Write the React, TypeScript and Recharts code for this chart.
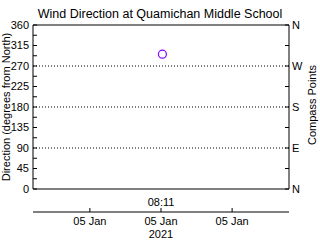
import { ScatterChart, Scatter, XAxis, YAxis, ReferenceLine } from "recharts";

// one observation on 05 Jan 2021, x in minutes after midnight
const obsMinutes = [491.1];
const obsDirection = [296];

const timeTicks = [486, 491, 496];
const timeTickLabels = ["05 Jan", "05 Jan", "05 Jan"];
const degreeTicks = [0, 22.5, 45, 67.5, 90, 112.5, 135, 157.5, 180, 202.5, 225, 247.5, 270, 292.5, 315, 337.5, 360];
const compassTicks = [0, 45, 90, 135, 180, 225, 270, 315, 360];
const compassNames = ["N", "", "E", "", "S", "", "W", "", "N"];
const gridDegrees = [90, 180, 270];

const FONT = "'Liberation Sans', Arial, sans-serif";
const PURPLE = "#7f00ff";

const data = obsMinutes.map((t, i) => ({ time: t, dir: obsDirection[i] }));

const tickStyle = { fontSize: 11, fill: "#000", fontFamily: FONT };
const noMark = () => <g />;

export default function App() {
  return (
    <div style={{ position: "absolute", left: 0, top: 0, width: 320, height: 240, background: "#fff" }}>
      <ScatterChart width={320} height={240} margin={{ top: 0, right: 0, bottom: 0, left: 0 }}>
        <XAxis
          xAxisId="top"
          orientation="top"
          type="number"
          dataKey="time"
          domain={[482, 500]}
          height={25}
          tick={false}
          tickLine={false}
          axisLine={{ stroke: "#000" }}
          label={{
            content: () => (
              <text x={160} y={18} textAnchor="middle" fontSize={12.5} fontFamily={FONT} fill="#000">
                Wind Direction at Quamichan Middle School
              </text>
            ),
          }}
        />
        <XAxis
          xAxisId="box"
          orientation="bottom"
          type="number"
          dataKey="time"
          domain={[482, 500]}
          height={23}
          tick={false}
          tickLine={false}
          axisLine={{ stroke: "#000" }}
          label={{
            content: (p: any) => (
              <text
                x={p.viewBox.x + p.viewBox.width / 2}
                y={p.viewBox.y + 17}
                textAnchor="middle"
                fontSize={11}
                fontFamily={FONT}
                fill="#000"
              >
                08:11
              </text>
            ),
          }}
        />
        <XAxis
          xAxisId="time"
          orientation="bottom"
          type="number"
          dataKey="time"
          domain={[482, 500]}
          ticks={timeTicks}
          tickFormatter={(v: number) => timeTickLabels[timeTicks.indexOf(v)] ?? ""}
          height={28}
          tickSize={-4}
          tickMargin={9}
          tick={tickStyle}
          tickLine={{ stroke: "#000" }}
          axisLine={{ stroke: "#000" }}
          label={{
            content: (p: any) => (
              <text
                x={p.viewBox.x + p.viewBox.width / 2}
                y={p.viewBox.y + 26}
                textAnchor="middle"
                fontSize={11}
                fontFamily={FONT}
                fill="#000"
              >
                2021
              </text>
            ),
          }}
        />
        <YAxis
          yAxisId="deg"
          orientation="left"
          type="number"
          dataKey="dir"
          domain={[0, 360]}
          ticks={degreeTicks}
          interval={0}
          tickFormatter={(v: number) => (v % 45 === 0 ? String(v) : "")}
          width={33}
          tickSize={-4}
          tickMargin={8}
          tick={tickStyle}
          tickLine={{ stroke: "#000" }}
          axisLine={{ stroke: "#000" }}
          label={{
            content: () => (
              <text
                x={6}
                y={107}
                transform="rotate(-90 6 107)"
                textAnchor="middle"
                dominantBaseline="central"
                fontSize={11}
                fontFamily={FONT}
                fill="#000"
              >
                Direction (degrees from North)
              </text>
            ),
          }}
        />
        <YAxis
          yAxisId="compass"
          orientation="right"
          type="number"
          dataKey="dir"
          domain={[0, 360]}
          ticks={compassTicks}
          interval={0}
          tickFormatter={(v: number) => compassNames[compassTicks.indexOf(v)] ?? ""}
          width={31}
          tickSize={-4}
          tickMargin={7}
          tick={tickStyle}
          tickLine={{ stroke: "#000" }}
          axisLine={{ stroke: "#000" }}
          label={{
            content: () => (
              <text
                x={312}
                y={105}
                transform="rotate(-90 312 105)"
                textAnchor="middle"
                dominantBaseline="central"
                fontSize={11}
                fontFamily={FONT}
                fill="#000"
              >
                Compass Points
              </text>
            ),
          }}
        />
        {gridDegrees.map((d) => (
          <ReferenceLine
            key={d}
            y={d}
            yAxisId="deg"
            xAxisId="time"
            stroke="#000"
            strokeDasharray="1 2"
          />
        ))}
        {/* invisible copies so the frame axes get a domain and render */}
        <Scatter data={data} xAxisId="top" yAxisId="compass" dataKey="dir" isAnimationActive={false} shape={noMark} />
        <Scatter data={data} xAxisId="box" yAxisId="compass" dataKey="dir" isAnimationActive={false} shape={noMark} />
        <Scatter
          data={data}
          xAxisId="time"
          yAxisId="deg"
          dataKey="dir"
          isAnimationActive={false}
          shape={(p: any) => <circle cx={p.cx} cy={p.cy} r={4} fill="none" stroke={PURPLE} strokeWidth={1.2} />}
        />
      </ScatterChart>
    </div>
  );
}
